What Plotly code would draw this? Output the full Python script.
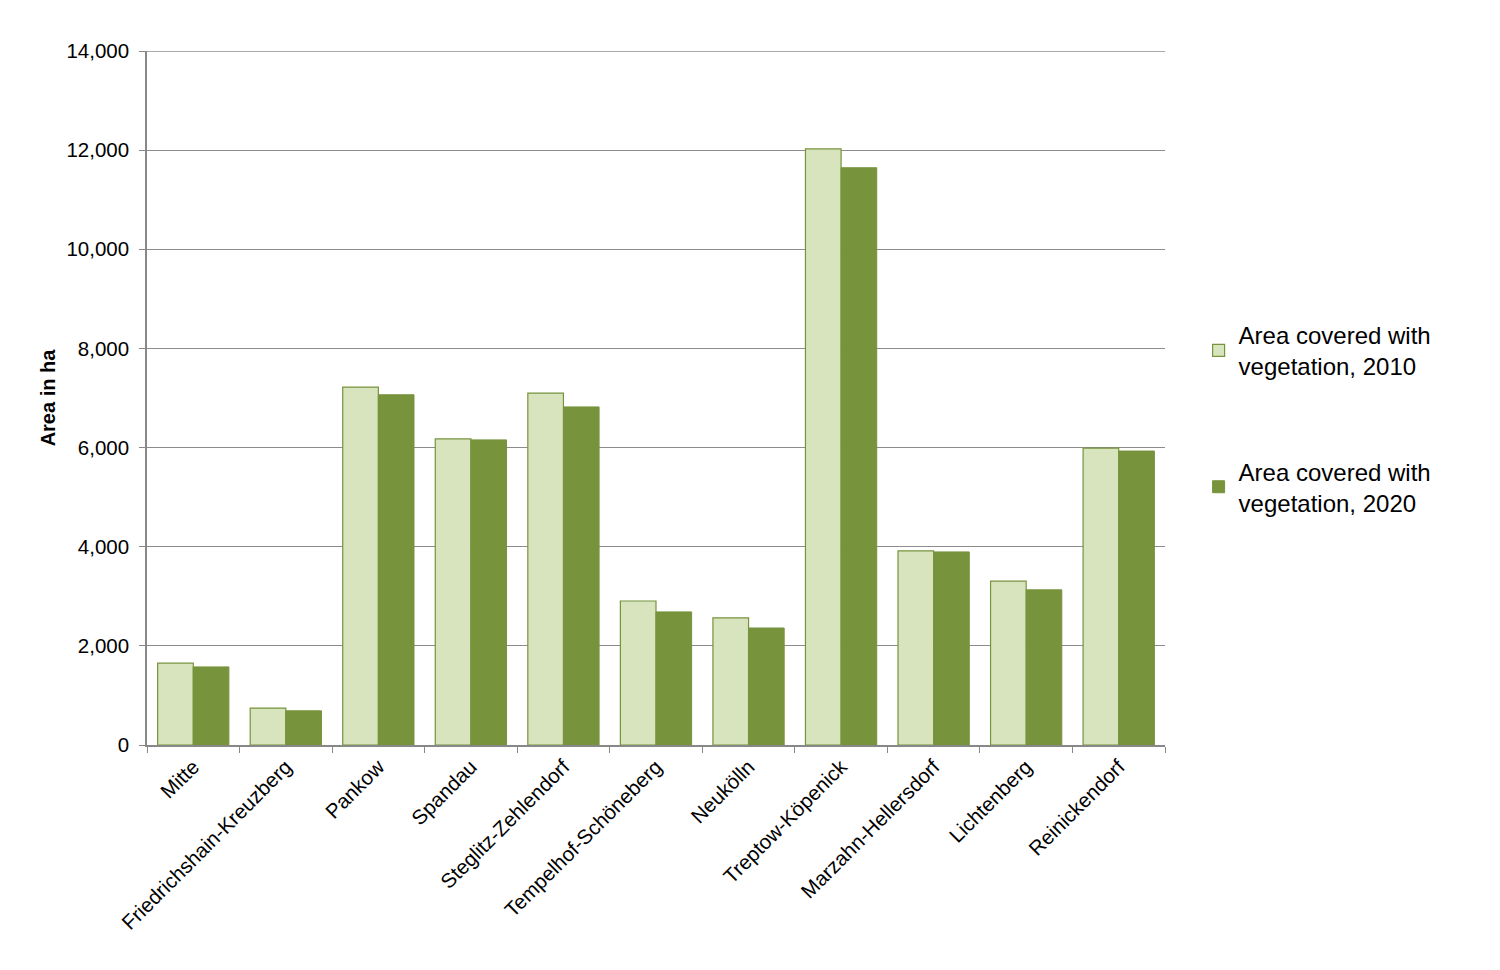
import plotly.graph_objects as go

districts = ["Mitte", "Friedrichshain-Kreuzberg", "Pankow", "Spandau", "Steglitz-Zehlendorf",
             "Tempelhof-Schöneberg", "Neukölln", "Treptow-Köpenick", "Marzahn-Hellersdorf",
             "Lichtenberg", "Reinickendorf"]
veg_2010 = [1650, 745, 7220, 6175, 7100, 2905, 2565, 12025, 3915, 3305, 5990]
veg_2020 = [1575, 690, 7065, 6155, 6820, 2685, 2360, 11645, 3895, 3130, 5930]
y_ticks = [0, 2000, 4000, 6000, 8000, 10000, 12000, 14000]

FONT = "Liberation Sans, Arial, sans-serif"

fig = go.Figure()
fig.add_trace(go.Bar(
    x=districts, y=veg_2010, name="Area covered with<br>vegetation, 2010",
    marker=dict(color="#D7E4BD", line=dict(color="#77933C", width=1.2)),
    legendgroup="a",
))
fig.add_trace(go.Bar(
    x=districts, y=veg_2020, name="Area covered with<br>vegetation, 2020",
    marker=dict(color="#77933C", line=dict(color="#77933C", width=1)),
    legendgroup="b",
))

fig.update_layout(
    width=1500, height=970,
    margin=dict(l=147, r=335, t=51, b=225),
    paper_bgcolor="white", plot_bgcolor="white",
    barmode="group", bargap=0.23, bargroupgap=0,
    font=dict(family=FONT, size=20, color="#000000"),
    legend=dict(x=1.033, y=0.623, xanchor="left", yanchor="top",
                font=dict(size=24, family=FONT), tracegroupgap=71,
                itemwidth=30, bgcolor="rgba(0,0,0,0)"),
    showlegend=True,
    shapes=[dict(type="line", xref="paper", yref="y", x0=0, x1=1, y0=14000, y1=14000,
                 line=dict(color="#8c8c8c", width=1.3), layer="below")],
)
fig.update_xaxes(
    tickangle=-45, showline=True, linecolor="#888888", linewidth=1.5,
    ticks="outside", tickson="boundaries", ticklen=6, tickcolor="#888888",
    tickfont=dict(size=20.5, family=FONT), showgrid=False,
)
fig.update_yaxes(
    range=[0, 14000], tickvals=y_ticks, tickformat=",",
    showline=True, linecolor="#888888", linewidth=1.5,
    ticks="outside", ticklen=6, tickcolor="#888888",
    showgrid=True, gridcolor="#8c8c8c", gridwidth=1,
    tickfont=dict(size=20.5, family=FONT), ticklabelstandoff=6,
    title=dict(text="<b>Area in ha</b>", font=dict(size=20, family=FONT), standoff=5),
    zeroline=False,
)

fig.write_html("out.html")
